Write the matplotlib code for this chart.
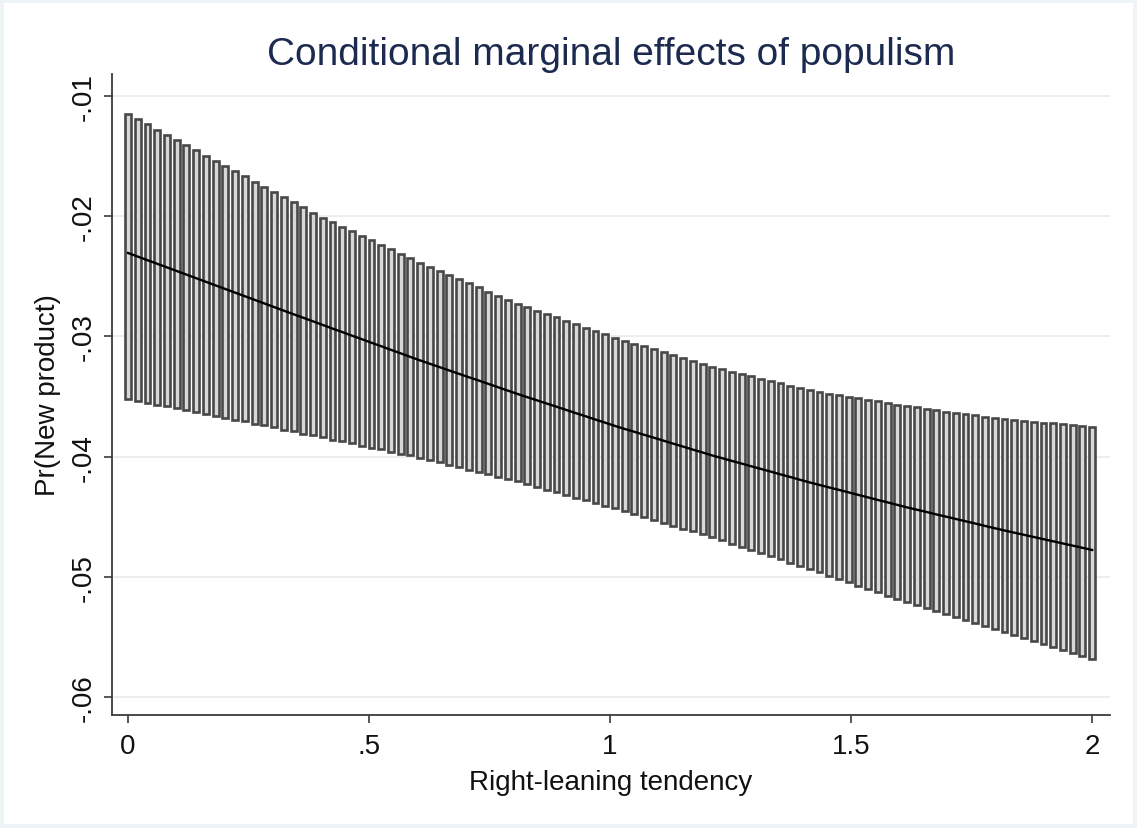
import numpy as np
import matplotlib
matplotlib.use("Agg")
import matplotlib.pyplot as plt
from matplotlib.patches import Rectangle

# ---- data ----
x_vals = np.linspace(0, 2, 100)   # evaluation points of Right-leaning tendency

upper = [
    -0.01150, -0.01193, -0.01237, -0.01280, -0.01323, -0.01366, -0.01410, -0.01453, -0.01496, -0.01540,
    -0.01583, -0.01626, -0.01669, -0.01712, -0.01755, -0.01798, -0.01841, -0.01884, -0.01927, -0.01970,
    -0.02013, -0.02051, -0.02088, -0.02126, -0.02164, -0.02201, -0.02239, -0.02277, -0.02314, -0.02352,
    -0.02390, -0.02424, -0.02458, -0.02492, -0.02525, -0.02559, -0.02593, -0.02627, -0.02661, -0.02695,
    -0.02729, -0.02757, -0.02785, -0.02814, -0.02842, -0.02870, -0.02899, -0.02927, -0.02955, -0.02984,
    -0.03012, -0.03036, -0.03060, -0.03084, -0.03109, -0.03133, -0.03157, -0.03181, -0.03205, -0.03229,
    -0.03253, -0.03273, -0.03293, -0.03312, -0.03332, -0.03352, -0.03371, -0.03391, -0.03411, -0.03431,
    -0.03450, -0.03463, -0.03476, -0.03489, -0.03502, -0.03515, -0.03528, -0.03541, -0.03554, -0.03567,
    -0.03580, -0.03591, -0.03602, -0.03613, -0.03625, -0.03636, -0.03647, -0.03658, -0.03669, -0.03680,
    -0.03691, -0.03698, -0.03704, -0.03711, -0.03717, -0.03724, -0.03730, -0.03737, -0.03743, -0.03750,
]

lower = [
    -0.03521, -0.03536, -0.03552, -0.03567, -0.03583, -0.03598, -0.03613, -0.03629, -0.03644, -0.03660,
    -0.03675, -0.03692, -0.03708, -0.03725, -0.03741, -0.03758, -0.03775, -0.03791, -0.03808, -0.03824,
    -0.03841, -0.03858, -0.03874, -0.03891, -0.03908, -0.03925, -0.03941, -0.03958, -0.03975, -0.03991,
    -0.04008, -0.04028, -0.04048, -0.04068, -0.04088, -0.04108, -0.04127, -0.04147, -0.04167, -0.04187,
    -0.04207, -0.04229, -0.04252, -0.04274, -0.04296, -0.04319, -0.04341, -0.04363, -0.04385, -0.04408,
    -0.04430, -0.04454, -0.04478, -0.04502, -0.04526, -0.04551, -0.04575, -0.04599, -0.04623, -0.04647,
    -0.04671, -0.04697, -0.04724, -0.04750, -0.04777, -0.04803, -0.04829, -0.04856, -0.04882, -0.04909,
    -0.04935, -0.04963, -0.04990, -0.05018, -0.05046, -0.05074, -0.05101, -0.05129, -0.05157, -0.05184,
    -0.05212, -0.05237, -0.05262, -0.05287, -0.05312, -0.05337, -0.05362, -0.05387, -0.05412, -0.05437,
    -0.05462, -0.05487, -0.05511, -0.05536, -0.05561, -0.05586, -0.05610, -0.05635, -0.05660, -0.05684,
]

margin = [
    -0.02306, -0.02336, -0.02366, -0.02396, -0.02426, -0.02456, -0.02486, -0.02516, -0.02546, -0.02576,
    -0.02606, -0.02636, -0.02666, -0.02696, -0.02726, -0.02756, -0.02786, -0.02816, -0.02845, -0.02875,
    -0.02905, -0.02935, -0.02964, -0.02994, -0.03023, -0.03053, -0.03082, -0.03112, -0.03141, -0.03171,
    -0.03200, -0.03228, -0.03256, -0.03284, -0.03312, -0.03340, -0.03367, -0.03395, -0.03423, -0.03451,
    -0.03479, -0.03506, -0.03532, -0.03559, -0.03585, -0.03612, -0.03639, -0.03665, -0.03692, -0.03718,
    -0.03745, -0.03770, -0.03794, -0.03819, -0.03843, -0.03868, -0.03893, -0.03917, -0.03942, -0.03966,
    -0.03991, -0.04013, -0.04036, -0.04058, -0.04081, -0.04103, -0.04125, -0.04148, -0.04170, -0.04193,
    -0.04215, -0.04236, -0.04257, -0.04277, -0.04298, -0.04319, -0.04340, -0.04361, -0.04381, -0.04402,
    -0.04423, -0.04442, -0.04461, -0.04481, -0.04500, -0.04519, -0.04538, -0.04557, -0.04577, -0.04596,
    -0.04615, -0.04633, -0.04651, -0.04669, -0.04687, -0.04705, -0.04723, -0.04741, -0.04759, -0.04777,
]

xtick_vals = [0, 0.5, 1, 1.5, 2]
xtick_labels = ["0", ".5", "1", "1.5", "2"]
ytick_vals = [-0.06, -0.05, -0.04, -0.03, -0.02, -0.01]
ytick_labels = ["-.06", "-.05", "-.04", "-.03", "-.02", "-.01"]

title = "Conditional marginal effects of populism"
xlabel = "Right-leaning tendency"
ylabel = "Pr(New product)"

# ---- figure ----
plt.rcParams["font.family"] = ["Liberation Sans", "DejaVu Sans"]
W, H = 1137, 829
fig = plt.figure(figsize=(W / 100, H / 100), dpi=100)
fig.patch.set_facecolor("#eef3f6")
fig.patches.append(Rectangle((4 / W, 4 / H), 1 - 8 / W, 1 - 8 / H, transform=fig.transFigure,
                             facecolor="white", edgecolor="none", zorder=-10))

ax = fig.add_axes([112 / W, 1 - 716 / H, (1110 - 112) / W, (716 - 75) / H])
ax.set_facecolor("white")
ax.set_xlim(-0.0332, 2.037)
ax.set_ylim(-0.0615, -0.00817)

heights = np.array(upper) - np.array(lower)
ax.bar(x_vals, heights, bottom=lower, width=0.0122, facecolor="#d8d8d8",
       edgecolor="#484848", linewidth=1.9, zorder=2)
ax.plot(x_vals, margin, color="black", linewidth=1.7, zorder=3)

ax.set_xticks(xtick_vals)
ax.set_xticklabels(xtick_labels)
ax.set_yticks(ytick_vals)
ax.set_yticklabels(ytick_labels, rotation=90, va="center")
ax.yaxis.grid(True, color="#ececec", linewidth=1.3)
ax.xaxis.grid(False)
ax.set_axisbelow(True)

for s in ["top", "right"]:
    ax.spines[s].set_visible(False)
for s in ["left", "bottom"]:
    ax.spines[s].set_color("#3a3a3a")
    ax.spines[s].set_linewidth(1.3)
ax.tick_params(direction="out", length=6, width=1.2, color="#3a3a3a", labelsize=20,
               labelcolor="#111111")
ax.tick_params(axis="x", pad=7)
ax.tick_params(axis="y", pad=5)

ax.set_xlabel(xlabel, fontsize=20, color="#111111", labelpad=7)
ax.set_ylabel(ylabel, fontsize=20, color="#111111", labelpad=7)

fig.text(611 / W, 1 - 55 / H, title, ha="center", va="center", fontsize=28, color="#1c2a50")

fig.savefig("out.png", dpi=100, facecolor=fig.get_facecolor())
